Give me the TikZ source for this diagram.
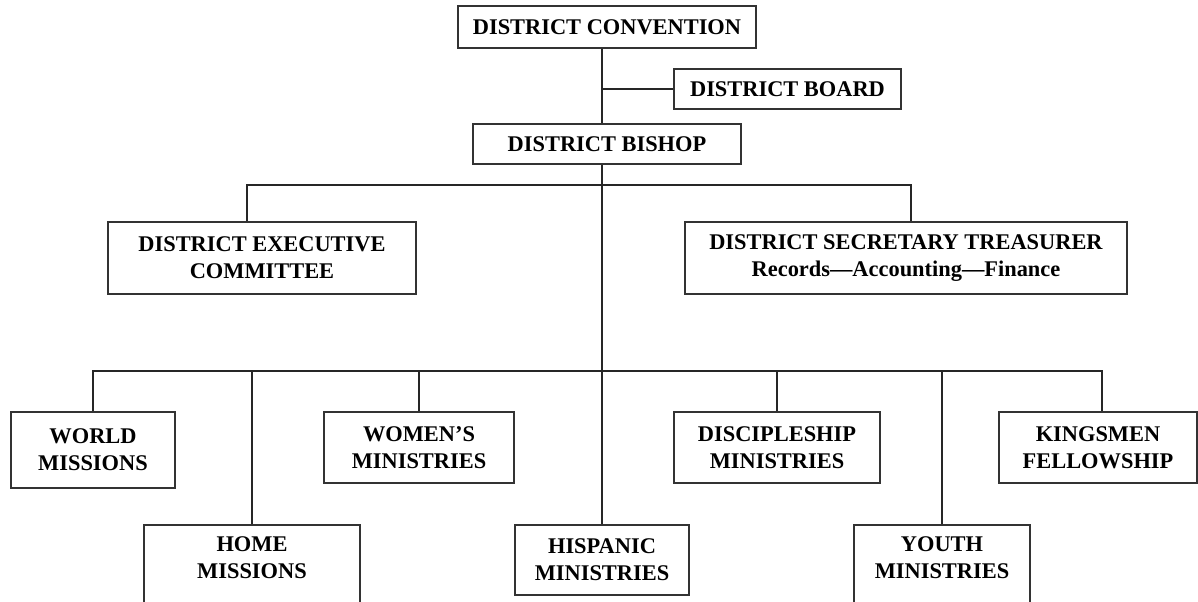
\documentclass[tikz,border=0pt]{standalone}
\usepackage{fontspec}
\setmainfont{Liberation Serif}
\usepackage{tikz}

\tikzset{
  box/.style={draw=black!80, line width=1pt, align=center, inner sep=0pt,
    font=\bfseries\fontsize{16.8}{20}\selectfont},
  link/.style={draw=black!85, line width=1.1pt}
}

\begin{document}
\begin{tikzpicture}[x=0.75pt, y=-0.75pt]
\useasboundingbox[fill=white] (0,0) rectangle (1198,601);
\node[box, minimum width=223.5pt, minimum height=31.5pt] (conv) at (607,27) {DISTRICT CONVENTION};
\node[box, minimum width=170.25pt, minimum height=30pt] (board) at (787.5,89) {DISTRICT BOARD};
\node[box, minimum width=201pt, minimum height=30pt] (bishop) at (607,144) {DISTRICT BISHOP};
\node[box, minimum width=231pt, minimum height=54pt] (exec) at (262,258) {DISTRICT EXECUTIVE\\COMMITTEE};
\node[box, minimum width=331.5pt, minimum height=54pt] (sec) at (906,258) {DISTRICT SECRETARY TREASURER\\Records---Accounting---Finance};
\node[box, minimum width=123pt, minimum height=57pt] (world) at (93,450) {WORLD\\MISSIONS};
\node[box, minimum width=142.5pt, minimum height=53.25pt] (women) at (419,447.5) {WOMEN'S\\MINISTRIES};
\node[box, minimum width=154.5pt, minimum height=53.25pt] (disc) at (777,447.5) {DISCIPLESHIP\\MINISTRIES};
\node[box, minimum width=148.5pt, minimum height=53.25pt] (king) at (1098,447.5) {KINGSMEN\\FELLOWSHIP};
\node[box, minimum width=162pt, minimum height=69pt] (home) at (252,571) {HOME\\MISSIONS\\\mbox{}};
\node[box, minimum width=130.5pt, minimum height=52.5pt] (hisp) at (602,560) {HISPANIC\\MINISTRIES};
\node[box, minimum width=132pt, minimum height=69pt] (youth) at (942,571) {YOUTH\\MINISTRIES\\\mbox{}};

\coordinate (busA) at (602,185);
\coordinate (busB) at (602,371);

\draw[link] (conv.south -| hisp.north) -- (bishop.north -| hisp.north);
\draw[link] (board.west) -- (board.west -| hisp.north);
\draw[link] (bishop.south -| hisp.north) -- (hisp.north);
\draw[link] ([xshift=-11.25pt]exec.north) |- (busA) -| ([xshift=3.75pt]sec.north);
\draw[link] (world.north) |- (busB) -| ([xshift=3pt]king.north);
\foreach \n in {home,women,disc,youth}
  \draw[link] (\n.north) -- (\n.north |- busB);
\end{tikzpicture}
\end{document}
